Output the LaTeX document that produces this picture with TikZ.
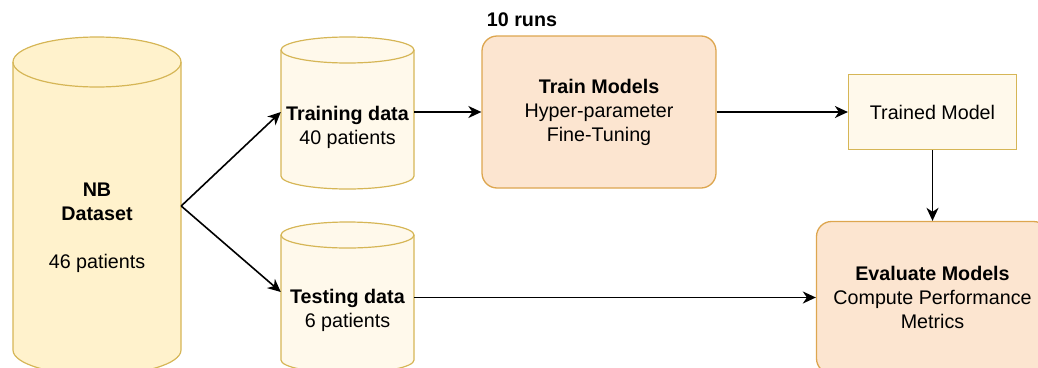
\documentclass[tikz,border=0pt]{standalone}
\usepackage{fontspec}
\setmainfont{Liberation Sans}
\usetikzlibrary{arrows.meta}

\definecolor{dbfill}{HTML}{FFF2CC}
\definecolor{dbdraw}{HTML}{D6B656}
\definecolor{lightfill}{HTML}{FFF9EB}
\definecolor{procfill}{HTML}{FCE5D0}
\definecolor{procdraw}{HTML}{DDA64F}

% cylinder: left x, right x, top ellipse centre y, bottom ellipse centre y, y radius, fill
\newcommand\dbcylinder[6]{%
  \pgfmathsetmacro\cylrx{(#2-#1)/2}%
  \filldraw[cylline, fill=#6] (#1,#3) -- (#1,#4)
    arc[start angle=180, end angle=360, x radius=\cylrx pt, y radius=#5pt]
    -- (#2,#3)
    arc[start angle=0, end angle=180, x radius=\cylrx pt, y radius=#5pt] -- cycle;
  \draw[cylline] (#2,#3)
    arc[start angle=0, end angle=-180, x radius=\cylrx pt, y radius=#5pt];
}

\begin{document}
\begin{tikzpicture}[x=1pt, y=-1pt,
  font=\fontsize{19.7}{24}\selectfont,
  cylline/.style={draw=dbdraw, line width=1.2pt},
  frame/.style={inner sep=0pt, minimum width=#1},
  procbox/.style={draw=procdraw, fill=procfill, line width=1.3pt,
    rounded corners=15pt, align=center, inner sep=0pt},
  resbox/.style={draw=dbdraw, fill=lightfill, line width=1.2pt,
    align=center, inner sep=0pt},
  txt/.style={align=center, inner sep=0pt},
  arr/.style={line width=1.6pt, -{Stealth[length=13pt, width=12pt, inset=4pt]}},
]
\useasboundingbox (0,0) rectangle (1038,367);

% data stores
\dbcylinder{13}{181}{62}{350}{25}{dbfill}
\dbcylinder{281}{414}{50}{176}{13}{lightfill}
\dbcylinder{281}{414}{235}{360}{13}{lightfill}

\node[frame=168pt, minimum height=338pt] (ds) at (97,206) {};
\node[frame=133pt, minimum height=150pt] (train) at (347.5,112) {};
\node[frame=133pt, minimum height=140pt] (test) at (347.5,292) {};

\node[txt] (dslbl) at (97,228) {\textbf{NB}\\\textbf{Dataset}\\[24pt]46 patients};
\node[txt] (trainlbl) at (347.5,127) {\textbf{Training data}\\40 patients};
\node[txt] (testlbl) at (347.5,310.5) {\textbf{Testing data}\\6 patients};

% processing steps
\node[procbox, minimum width=234pt, minimum height=152pt] (tm) at (599,112)
  {\textbf{Train Models}\\Hyper-parameter\\Fine-Tuning};
\node[anchor=base, inner sep=0pt] (runs) at (522,26.7) {\textbf{10 runs}};
\node[resbox, minimum width=168pt, minimum height=75pt] (trained) at (932.5,112)
  {Trained Model};
\node[procbox, minimum width=232pt, minimum height=152pt] (eval) at (932.5,297.5)
  {\textbf{Evaluate Models}\\Compute Performance\\Metrics};

% connectors
\draw[arr] (ds.east) -- (train.west);
\draw[arr] (ds.east) -- (test.west);
\draw[arr] (train.east) -- (tm.west);
\draw[arr] (tm.east) -- (trained.west);
\draw[arr] (trained.south) -- (eval.north);
\draw[arr] (test.east |- eval.west) -- (eval.west);
\end{tikzpicture}
\end{document}
